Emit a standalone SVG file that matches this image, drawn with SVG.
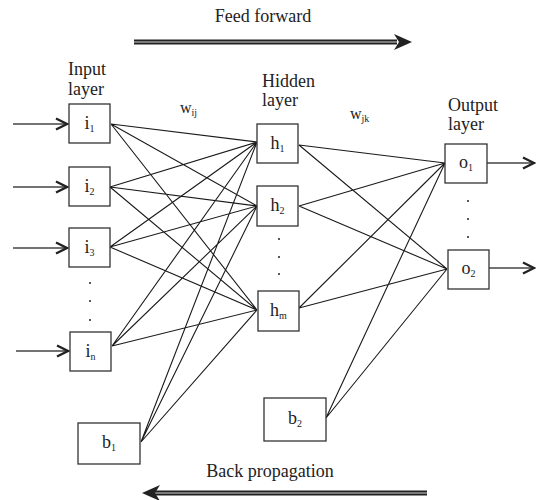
<svg xmlns="http://www.w3.org/2000/svg" width="536" height="500" viewBox="0 0 536 500">
<defs>
<marker id="chev" markerUnits="userSpaceOnUse" markerWidth="16" markerHeight="16" viewBox="0 0 16 16" refX="14" refY="8" orient="auto">
<polyline points="2,2.5 13,8 2,13.5" fill="none" stroke="#222" stroke-width="2.4"/>
</marker>
</defs>
<style>
text{font-family:"Liberation Serif","Times New Roman",serif;fill:#222}
.t{font-size:18px}
.w{font-size:16px}
.lab{font-size:18px;text-anchor:middle}
.sub{font-size:10px}
.box{fill:#fff;stroke:#333;stroke-width:1.3}
.edge{stroke:#1a1a1a;stroke-width:1.1;fill:none}
.in{stroke:#444;stroke-width:1.6;fill:none;marker-end:url(#chev)}
.dot{fill:#222}
.big{stroke:#222;stroke-width:5;fill:none}
.bigc{stroke:#999;stroke-width:1.5;fill:none}
</style>
<rect width="536" height="500" fill="#fff"/>

<g id="feedforward">
<text class="t" x="263" y="22" text-anchor="middle">Feed forward</text>
<line class="big" x1="134" y1="42" x2="397" y2="42"/>
<line class="bigc" x1="134" y1="42" x2="397" y2="42"/>
<polygon points="412,42 394,34 399,42 394,50" fill="#222"/>
</g>
<g id="backprop">
<text class="t" x="270" y="477" text-anchor="middle">Back propagation</text>
<line class="big" x1="155" y1="493" x2="427" y2="493"/>
<line class="bigc" x1="155" y1="493" x2="427" y2="493"/>
<polygon points="142,493 160,485 155,493 160,501" fill="#222"/>
</g>

<g id="layer-labels">
<text class="t" x="68" y="75">Input</text>
<text class="t" x="68" y="95">layer</text>
<text class="t" x="262" y="87">Hidden</text>
<text class="t" x="262" y="106">layer</text>
<text class="t" x="448" y="111">Output</text>
<text class="t" x="448" y="130">layer</text>
<text class="w" x="180" y="113">w<tspan class="sub" dy="3">ij</tspan></text>
<text class="w" x="350" y="119">w<tspan class="sub" dy="3">jk</tspan></text>
</g>

<g id="connectors">
<line class="in" x1="13" y1="124" x2="68" y2="124"/>
<line class="in" x1="13" y1="187" x2="68" y2="187"/>
<line class="in" x1="13" y1="248" x2="68" y2="248"/>
<line class="in" x1="16" y1="351" x2="69" y2="351"/>
<line class="in" x1="487" y1="163" x2="535" y2="163"/>
<line class="in" x1="489" y1="268" x2="535" y2="268"/>
<path class="edge" d="M111,124L257,142M111,124L257,206M111,124L257,310
M110,187L257,142M110,187L257,206M110,187L257,310
M110,247L257,142M110,247L257,206M110,247L257,310
M112,346L257,142M112,346L257,206M112,346L257,310
M141,442L257,142M141,442L257,206M141,442L257,310
M299,145L445,163M299,145L447,269
M299,206L445,163M299,206L447,269
M299,308L445,163M299,308L447,269
M326,418L445,163M326,418L447,269"/>
</g>

<g id="i1"><rect class="box" x="69" y="104" width="41" height="39"/><text class="lab" x="89.5" y="129">i<tspan class="sub" dy="3">1</tspan></text></g>
<g id="i2"><rect class="box" x="69" y="167" width="41" height="39"/><text class="lab" x="89.5" y="192">i<tspan class="sub" dy="3">2</tspan></text></g>
<g id="i3"><rect class="box" x="69" y="228" width="41" height="39"/><text class="lab" x="89.5" y="253">i<tspan class="sub" dy="3">3</tspan></text></g>
<g id="in-dots"><circle class="dot" cx="90" cy="283" r="1"/><circle class="dot" cx="90" cy="301" r="1"/><circle class="dot" cx="90" cy="320" r="1"/></g>
<g id="in"><rect class="box" x="70" y="332" width="41" height="39"/><text class="lab" x="90.5" y="357">i<tspan class="sub" dy="3">n</tspan></text></g>
<g id="b1"><rect class="box" x="78" y="423" width="62" height="41"/><text class="lab" x="109" y="448">b<tspan class="sub" dy="3">1</tspan></text></g>

<g id="h1"><rect class="box" x="257" y="124" width="41" height="39"/><text class="lab" x="277.5" y="149">h<tspan class="sub" dy="3">1</tspan></text></g>
<g id="h2"><rect class="box" x="257" y="186" width="41" height="40"/><text class="lab" x="277.5" y="211">h<tspan class="sub" dy="3">2</tspan></text></g>
<g id="h-dots"><circle class="dot" cx="279" cy="239" r="1"/><circle class="dot" cx="279" cy="257" r="1"/><circle class="dot" cx="279" cy="274" r="1"/></g>
<g id="hm"><rect class="box" x="258" y="291" width="41" height="40"/><text class="lab" x="278.5" y="316">h<tspan class="sub" dy="3">m</tspan></text></g>
<g id="b2"><rect class="box" x="264" y="398" width="62" height="43"/><text class="lab" x="295" y="424">b<tspan class="sub" dy="3">2</tspan></text></g>

<g id="o1"><rect class="box" x="445" y="144" width="42" height="39"/><text class="lab" x="466" y="168">o<tspan class="sub" dy="3">1</tspan></text></g>
<g id="o-dots"><circle class="dot" cx="468" cy="201" r="1"/><circle class="dot" cx="468" cy="219" r="1"/><circle class="dot" cx="468" cy="237" r="1"/></g>
<g id="o2"><rect class="box" x="448" y="250" width="41" height="39"/><text class="lab" x="468.5" y="274">o<tspan class="sub" dy="3">2</tspan></text></g>
</svg>
